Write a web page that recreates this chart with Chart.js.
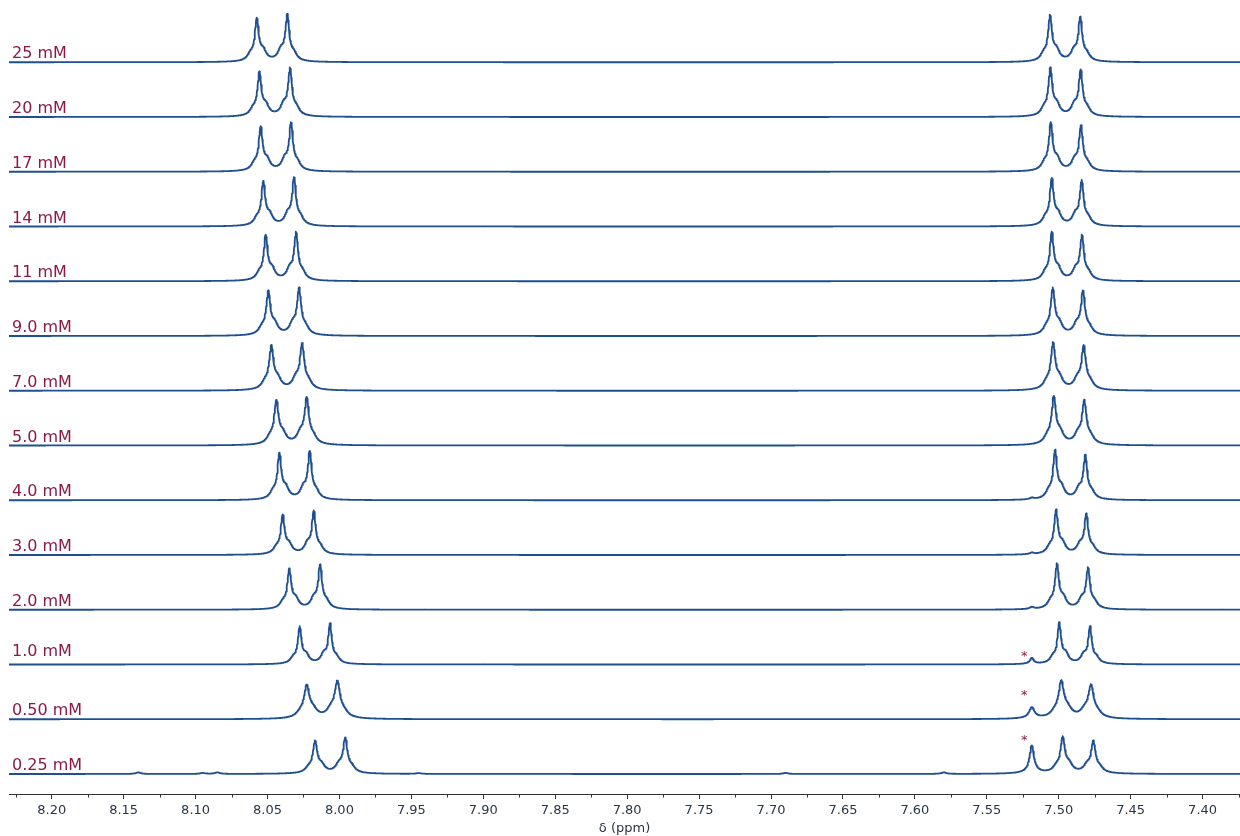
<!DOCTYPE html>
<html>
<head>
<meta charset="utf-8">
<title>Stacked 1H NMR spectra</title>
<script src="https://cdn.jsdelivr.net/npm/chart.js@4/dist/chart.umd.min.js"></script>
<style>
  html, body { margin: 0; padding: 0; background: #fff; }
</style>
</head>
<body>
<canvas id="nmrChart" width="1240" height="836"></canvas>
<script>
// Concentrations, top trace first
const concLabels = ['25 mM', '20 mM', '17 mM', '14 mM', '11 mM', '9.0 mM', '7.0 mM',
                    '5.0 mM', '4.0 mM', '3.0 mM', '2.0 mM', '1.0 mM', '0.50 mM', '0.25 mM'];

// Doublet near 8.0 ppm (ppm of each line)
const peakA1 = [8.0575, 8.0557, 8.0548, 8.0530, 8.0513, 8.0495, 8.0474,
                8.0439, 8.0418, 8.0395, 8.0349, 8.0277, 8.0228, 8.0170];
const peakA2 = [8.0363, 8.0344, 8.0337, 8.0316, 8.0302, 8.0281, 8.0260,
                8.0228, 8.0207, 8.0179, 8.0135, 8.0066, 8.0015, 7.9960];
// Doublet near 7.5 ppm
const peakB1 = [7.5061, 7.5059, 7.5056, 7.5049, 7.5049, 7.5042, 7.5040,
                7.5035, 7.5026, 7.5019, 7.5013, 7.4997, 7.4983, 7.4973];
const peakB2 = [7.4851, 7.4848, 7.4846, 7.4841, 7.4839, 7.4832, 7.4827,
                7.4823, 7.4816, 7.4809, 7.4797, 7.4783, 7.4776, 7.4760];

// Peak heights (arbitrary intensity)
const heightA1 = [44, 45, 45, 45, 46, 45, 45, 45, 47, 40, 41, 38, 34, 33];
const heightA2 = [48, 49, 49, 49, 49, 48, 47, 48, 49, 44, 45, 41, 38, 36];
const heightB1 = [47, 49, 49, 48, 49, 48, 48, 49, 50, 45, 46, 42, 38, 37];
const heightB2 = [45, 47, 46, 46, 46, 45, 45, 45, 45, 41, 42, 38, 34, 33];

// Half width at half height of the lines (ppm)
const lineWidths = [0.0016, 0.0016, 0.0016, 0.0016, 0.0016, 0.0017, 0.0018,
                    0.0018, 0.0016, 0.0016, 0.0016, 0.0015, 0.0022, 0.0018];

// Impurity signal marked with *
const impurityPpm = 7.5188;
const impurityHeights = [0, 0, 0, 0, 0, 0, 0, 0, 1.5, 1.5, 2, 6, 11, 28];

// Small baseline artefacts in the 0.25 mM trace
const artefactPpm = [8.140, 8.095, 8.085, 7.945, 7.690, 7.580];
const artefactHeights = [1.5, 1.0, 1.5, 0.8, 1.0, 1.5];

// x axis tick labels
const tickValues = [8.20, 8.15, 8.10, 8.05, 8.00, 7.95, 7.90, 7.85, 7.80,
                    7.75, 7.70, 7.65, 7.60, 7.55, 7.50, 7.45, 7.40];

const ppmMax = 8.2297, ppmMin = 7.374;
const rowGap = 54.75; // vertical offset between traces
const nRows = concLabels.length;
const rowOffset = r => (nRows - 1 - r) * rowGap;

function lorentz(u, g) { return 1 / (1 + (u / g) * (u / g)); }

// one line of the multiplet: sharp centre, small shoulders each side, broad foot
const shoulderGap = 0.0045, sIn = 0.22, sOut = 0.14, foot = 0.05;
function lineShape(u, g, dir) {
  const gs = 1.5 * g;
  const v = lorentz(u, g)
          + sIn * lorentz(u - dir * shoulderGap, gs)
          + sOut * lorentz(u + dir * shoulderGap, gs)
          + foot * lorentz(u, 4 * g);
  const apex = 1 + foot + (sIn + sOut) * lorentz(shoulderGap, gs);
  return v / apex;
}

const step = 0.0003;
const nPts = Math.ceil((ppmMax - ppmMin) / step);

const datasets = concLabels.map((label, r) => {
  const g = lineWidths[r];
  const pts = [];
  for (let k = 0; k <= nPts; k++) {
    const x = ppmMax - k * step;
    let y = heightA1[r] * lineShape(x - peakA1[r], g, -1)
          + heightA2[r] * lineShape(x - peakA2[r], g, 1)
          + heightB1[r] * lineShape(x - peakB1[r], g, -1)
          + heightB2[r] * lineShape(x - peakB2[r], g, 1);
    if (impurityHeights[r] > 0) {
      y += impurityHeights[r] * (0.93 * lorentz(x - impurityPpm, g) + 0.07 * lorentz(x - impurityPpm, 4 * g));
    }
    if (r === nRows - 1) {
      artefactPpm.forEach((p, i) => { y += artefactHeights[i] * lorentz(x - p, 0.002); });
    }
    pts.push({ x: x, y: rowOffset(r) + y });
  }
  return {
    label: label,
    data: pts,
    borderColor: '#1f4f8f',
    borderWidth: 1.8,
    borderJoinStyle: 'round',
    borderCapStyle: 'round',
    pointRadius: 0,
    fill: false,
    tension: 0
  };
});

// concentration labels and asterisks
const starRows = ['1.0 mM', '0.50 mM', '0.25 mM'];
const starLevels = [11.5, 27.6, 37]; // height of the * above the trace baseline
const starPpm = 7.524;

const annotations = {
  id: 'annotations',
  afterDatasetsDraw(chart) {
    const { ctx, chartArea, scales: { x, y } } = chart;
    ctx.save();
    ctx.fillStyle = '#8b1a48';
    ctx.font = '16px "DejaVu Sans"';
    ctx.textAlign = 'left';
    ctx.textBaseline = 'alphabetic';
    concLabels.forEach((lab, r) => {
      const base = y.getPixelForValue(rowOffset(r));
      ctx.fillText(lab, chartArea.left + 3, base - (lab === '1.0 mM' ? 9 : 4));
    });
    ctx.font = '13px "DejaVu Sans"';
    ctx.textAlign = 'center';
    starRows.forEach((lab, i) => {
      const r = concLabels.indexOf(lab);
      const cy = y.getPixelForValue(rowOffset(r) + starLevels[i]);
      ctx.fillText('*', x.getPixelForValue(starPpm), cy + 7);
    });
    // minor ticks halfway between labelled ticks
    ctx.strokeStyle = '#333';
    ctx.lineWidth = 1;
    const axisY = x.top + 0.5;
    for (let v = 8.225; v > ppmMin; v -= 0.05) {
      const px = Math.round(x.getPixelForValue(v)) + 0.5;
      ctx.beginPath();
      ctx.moveTo(px, axisY);
      ctx.lineTo(px, axisY + 3);
      ctx.stroke();
    }
    ctx.restore();
  }
};

const ctx = document.getElementById('nmrChart').getContext('2d');
const chart = new Chart(ctx, {
  type: 'line',
  data: { datasets: datasets },
  options: {
    responsive: false,
    animation: false,
    devicePixelRatio: 1,
    layout: { padding: { left: 9, right: 0, top: 0, bottom: 0 } },
    plugins: {
      legend: { display: false },
      tooltip: { enabled: false }
    },
    scales: {
      x: {
        type: 'linear',
        reverse: true,
        min: ppmMin,
        max: ppmMax,
        afterBuildTicks: scale => { scale.ticks = tickValues.map(v => ({ value: v })); },
        afterFit: scale => { scale.height = 42; },
        grid: { drawOnChartArea: false, drawTicks: true, tickLength: 5, tickColor: '#333' },
        border: { display: true, color: '#333', width: 1 },
        ticks: {
          padding: 4,
          color: '#2a3548',
          autoSkip: false,
          maxRotation: 0,
          font: { family: 'DejaVu Sans', size: 13 },
          callback: v => v.toFixed(2)
        },
        title: {
          display: true,
          text: 'δ (ppm)',
          color: '#2a3548',
          font: { family: 'DejaVu Sans', size: 13 },
          padding: { top: 0, bottom: 0 }
        }
      },
      y: { display: false, min: -20, max: 774 }
    }
  },
  plugins: [annotations]
});
</script>
</body>
</html>
